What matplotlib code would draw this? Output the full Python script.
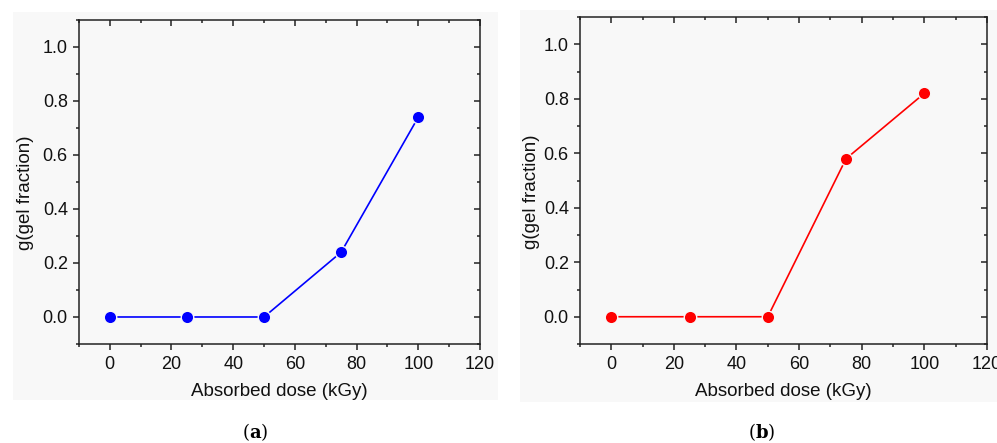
import matplotlib
matplotlib.use("Agg")
import matplotlib.pyplot as plt
from matplotlib.patches import Rectangle
from matplotlib.ticker import MultipleLocator
from matplotlib import lines as mlines

dose = [0, 25, 50, 75, 100]
gel_a = [0.0, 0.0, 0.0, 0.24, 0.74]
gel_b = [0.0, 0.0, 0.0, 0.58, 0.82]
xticks = [0, 20, 40, 60, 80, 100, 120]
yticks = [0.0, 0.2, 0.4, 0.6, 0.8, 1.0]
panel_labels = ["a", "b"]

plt.rcParams['font.family'] = ['Liberation Sans', 'DejaVu Sans']
plt.rcParams['mathtext.fontset'] = 'dejavuserif'

fig = plt.figure(figsize=(9.97, 4.43), dpi=100)
fig.patch.set_facecolor('white')

bg = '#f8f8f8'
fig.add_artist(Rectangle((0.013, 0.097), 0.4865, 0.876, transform=fig.transFigure,
                         facecolor=bg, edgecolor='none', zorder=-5))
fig.add_artist(Rectangle((0.5216, 0.0926), 0.4784, 0.885, transform=fig.transFigure,
                         facecolor=bg, edgecolor='none', zorder=-5))

ax_a = fig.add_axes([0.0792, 0.2235, 0.4022, 0.7314])
ax_b = fig.add_axes([0.5817, 0.2235, 0.4082, 0.7380])

for ax, y, color, ylx in [(ax_a, gel_a, '#0000ff', -0.112), (ax_b, gel_b, '#ff0000', -0.097)]:
    ax.set_zorder(2)
    ax.set_facecolor(bg)
    ax.plot(dose, y, '-', color=color, lw=1.2, marker='o', markersize=9,
            markerfacecolor=color, markeredgecolor=bg, markeredgewidth=1.0, clip_on=False)
    ax.set_xlim(-10, 120)
    ax.set_ylim(-0.1, 1.1)
    ax.set_xticks(xticks)
    ax.set_yticks(yticks)
    ax.set_yticklabels([f"{v:.1f}" for v in yticks])
    ax.xaxis.set_minor_locator(MultipleLocator(10))
    ax.yaxis.set_minor_locator(MultipleLocator(0.1))
    for s in ax.spines.values():
        s.set_linewidth(1.1)
        s.set_color('#222222')
    ax.tick_params(axis='both', which='major', direction='out', length=4, width=1.1,
                   labelsize=13, color='#222222', labelcolor='#111111', pad=4)
    ax.tick_params(axis='x', which='major', pad=4.5)
    ax.tick_params(axis='both', which='minor', direction='out', length=2.5, width=1.1, color='#222222')
    ax.tick_params(axis='both', which='both', top=True, right=True)
    for t in ax.xaxis.get_major_ticks() + ax.xaxis.get_minor_ticks():
        t.tick2line.set_marker(mlines.TICKDOWN)
    for t in ax.yaxis.get_major_ticks() + ax.yaxis.get_minor_ticks():
        t.tick2line.set_marker(mlines.TICKLEFT)
    ax.set_xlabel("Absorbed dose (kGy)", fontsize=13.5, color='#111111')
    ax.set_ylabel("g(gel fraction)", fontsize=13.5, color='#111111')
    ax.xaxis.set_label_coords(0.5, -0.12)
    ax.yaxis.set_label_coords(ylx, 0.466)

fig.text(255 / 997, 1 - 432 / 443, r"($\mathbf{a}$)", ha='center', va='center', fontsize=13,
         family='DejaVu Serif')
fig.text(762 / 997, 1 - 432 / 443, r"($\mathbf{b}$)", ha='center', va='center', fontsize=13,
         family='DejaVu Serif')

fig.savefig("out.png", dpi=100, facecolor='white')
